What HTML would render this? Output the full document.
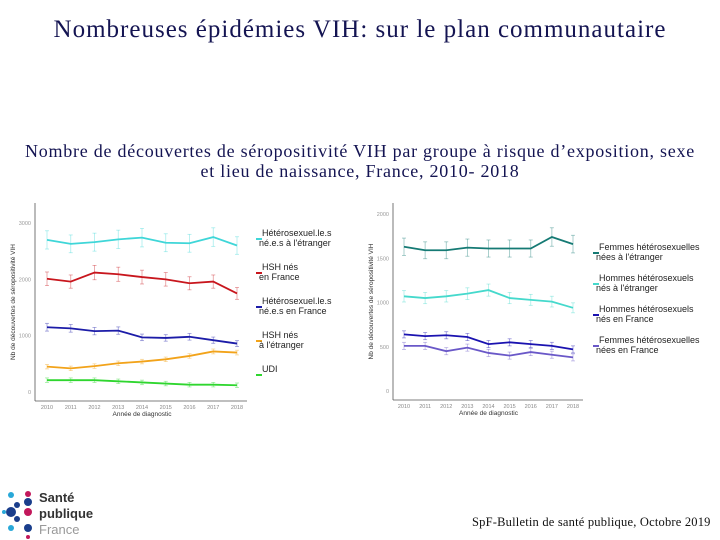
<!DOCTYPE html>
<html><head><meta charset="utf-8"><style>
body{margin:0;width:720px;height:540px;background:#fff;overflow:hidden;position:relative;font-family:"Liberation Serif",serif;}
.t{position:absolute;left:0;width:720px;text-align:center;color:#141452;white-space:nowrap;}
</style></head><body>
<div class="t" style="top:16px;font-size:25px;letter-spacing:1px;">Nombreuses épidémies VIH: sur le plan communautaire</div>
<div class="t" style="top:141px;font-size:18px;line-height:20px;letter-spacing:0.75px;">Nombre de découvertes de séropositivité VIH par groupe à risque d’exposition, sexe<br>et lieu de naissance, France, 2010- 2018</div>
<svg id="c" width="720" height="540" style="position:absolute;left:0;top:0"></svg>
<div style="position:absolute;left:472px;top:515px;font-size:12.5px;color:#111;letter-spacing:0.2px;">SpF-Bulletin de santé publique, Octobre 2019</div>
<script>
const years=[2010,2011,2012,2013,2014,2015,2016,2017,2018];
const leftTicks=[0,1000,2000,3000];
const leftNames=["Hétérosexuel.le.s|né.e.s à l'étranger","HSH nés|en France","Hétérosexuel.le.s|né.e.s en France","HSH nés|à l'étranger","UDI"];
const heteroEtr=[2700,2630,2660,2710,2740,2650,2640,2750,2600];
const hshFr=[2010,1960,2120,2090,2040,2000,1930,1960,1750];
const heteroFr=[1150,1130,1080,1090,970,960,980,920,860];
const hshEtr=[450,420,460,510,540,580,640,720,700];
const udi=[210,210,210,190,170,150,130,130,120];
const rightTicks=[0,500,1000,1500,2000];
const rightNames=["Femmes hétérosexuelles|nées à l'étranger","Hommes hétérosexuels|nés à l'étranger","Hommes hétérosexuels|nés en France","Femmes hétérosexuelles|nées en France"];
const femEtr=[1630,1590,1590,1620,1610,1610,1610,1740,1660];
const homEtr=[1070,1050,1070,1100,1140,1050,1030,1010,940];
const homFr=[640,620,630,610,530,550,530,510,470];
const femFr=[510,510,450,490,430,400,440,410,380];
const NS="http://www.w3.org/2000/svg";
const svg=document.getElementById('c');
function el(t,a,p){const e=document.createElementNS(NS,t);for(const k in a)e.setAttribute(k,a[k]);(p||svg).appendChild(e);return e;}
function chart(cfg){
  const g=el('g',{});
  
  
  const x=y=>cfg.x0+(y-years[0])*(cfg.x1-cfg.x0)/(years[years.length-1]-years[0]);
  const y=v=>cfg.y0+(v-cfg.vmin)*(cfg.y1-cfg.y0)/(cfg.vmax-cfg.vmin);
  el('line',{x1:cfg.ax,y1:cfg.top,x2:cfg.ax,y2:cfg.ay,stroke:'#555','stroke-width':0.8},g);
  el('line',{x1:cfg.ax,y1:cfg.ay,x2:cfg.x1+10,y2:cfg.ay,stroke:'#555','stroke-width':0.8},g);
  cfg.ticks.forEach(t=>{const tx=el('text',{x:cfg.ax-4,y:y(t)+2,'font-size':5.5,'text-anchor':'end',fill:'#999','font-family':'Liberation Sans'},g);tx.textContent=t;
    });
  years.forEach(yr=>{const tx=el('text',{x:x(yr),y:cfg.ay+8,'font-size':5.5,'text-anchor':'middle',fill:'#888','font-family':'Liberation Sans'},g);tx.textContent=yr;
    });
  const xt=el('text',{x:(cfg.x0+cfg.x1)/2,y:cfg.ay+15,'font-size':6.5,'text-anchor':'middle',fill:'#333','font-family':'Liberation Sans'},g);xt.textContent='Année de diagnostic';
  
  const yt=el('text',{x:0,y:0,'font-size':6.5,'text-anchor':'middle',fill:'#333','font-family':'Liberation Sans',transform:`translate(${cfg.ax-20},${(cfg.top+cfg.ay)/2}) rotate(-90)`},g);yt.textContent='Nb de découvertes de séropositivité VIH';
  
  cfg.series.forEach((s,i)=>{
    const e=s.data.map(v=>Math.max(40,v*0.06));
    s.data.forEach((v,j)=>{const px=x(years[j]);
      el('line',{x1:px,y1:y(v-e[j]),x2:px,y2:y(v+e[j]),stroke:s.c,'stroke-opacity':0.45,'stroke-width':0.8},g);
      el('line',{x1:px-2,y1:y(v-e[j]),x2:px+2,y2:y(v-e[j]),stroke:s.c,'stroke-opacity':0.45,'stroke-width':0.8},g);
      el('line',{x1:px-2,y1:y(v+e[j]),x2:px+2,y2:y(v+e[j]),stroke:s.c,'stroke-opacity':0.45,'stroke-width':0.8},g);});
    const p=el('polyline',{points:s.data.map((v,j)=>x(years[j])+','+y(v)).join(' '),fill:'none',stroke:s.c,'stroke-width':1.8},g);
    
    const ly=cfg.ly0+i*cfg.lstep;
    const lg=el('g',{},g);
    
    el('line',{x1:cfg.lx,y1:ly+3,x2:cfg.lx+6,y2:ly+3,stroke:s.c,'stroke-width':2},lg);
    cfg.names[i].split('|').forEach((ln,k)=>{const t=el('text',{x:cfg.lx+(k?3:6),y:ly+k*10,'font-size':9,fill:'#222','font-family':'Liberation Sans'},lg);t.textContent=ln;});
  });
}
chart({name:'left-chart',x0:47,x1:237,y0:392,y1:223,vmin:0,vmax:3000,ax:35,ay:401,top:203,ticks:leftTicks,names:leftNames,
  lx:256,ly0:236,lstep:34,
  series:[{data:heteroEtr,c:'#3fd6d8'},{data:hshFr,c:'#c8161d'},{data:heteroFr,c:'#1c1ca8'},{data:hshEtr,c:'#f2a31a'},{data:udi,c:'#2fd62f'}]});
chart({name:'right-chart',x0:404,x1:573,y0:391,y1:214,vmin:0,vmax:2000,ax:393,ay:400,top:203,ticks:rightTicks,names:rightNames,
  lx:593,ly0:250,lstep:31,
  series:[{data:femEtr,c:'#157a74'},{data:homEtr,c:'#45d9cc'},{data:homFr,c:'#1a12b0'},{data:femFr,c:'#6a58c8'}]});
const lg=el('g',{});


[[28,494,3,'#c2185b'],[11,495,3,'#29a8d8'],[28,502,4,'#1a3e8c'],[17,505,3,'#1a3e8c'],[11,512,5,'#1a3e8c'],[4,512,2,'#29a8d8'],[28,512,4,'#c2185b'],[17,519,3,'#1a3e8c'],[11,528,3,'#29a8d8'],[28,528,4,'#1a3e8c'],[28,537,2,'#c2185b']].forEach(d=>el('circle',{cx:d[0],cy:d[1],r:d[2],fill:d[3]},lg));
[['Santé',497,'#333','bold'],['publique',513,'#333','bold'],['France',529,'#999','normal']].forEach(d=>{const t=el('text',{x:39,y:d[1]+5,'font-size':13,'font-weight':d[3],fill:d[2],'font-family':'Liberation Sans'},lg);t.textContent=d[0];});
</script>
</body></html>
